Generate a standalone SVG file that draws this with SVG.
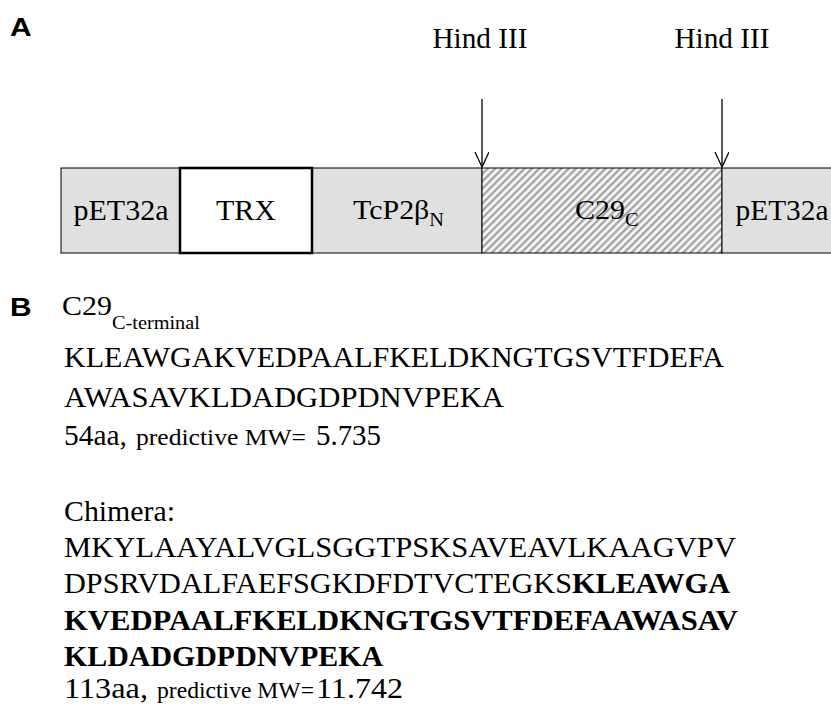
<svg xmlns="http://www.w3.org/2000/svg" width="831" height="704" viewBox="0 0 831 704">
<style>
.t{font-family:"Liberation Serif","Times New Roman",serif;font-size:30px;fill:#000}
.m{font-size:28px}
.sub{font-size:19px}
.sm{font-size:23px}
.b{font-weight:bold}
.lab{font-family:"Liberation Sans",Arial,sans-serif;font-weight:bold;font-size:26px;fill:#000}
.seg{fill:#e0e0e0;stroke:#000;stroke-width:1}
.conn{fill:none;stroke:#000;stroke-width:1.3}
</style>
<defs>
<pattern id="hatch" patternUnits="userSpaceOnUse" width="5.2" height="10" patternTransform="rotate(45)">
<rect width="5.2" height="10" fill="#f4f4f4"/>
<line x1="1.3" y1="0" x2="1.3" y2="10" stroke="#9a9a9a" stroke-width="2"/>
</pattern>
<marker id="vhead" markerWidth="18" markerHeight="16" refX="15" refY="7" orient="auto" markerUnits="userSpaceOnUse" viewBox="0 0 18 16">
<path d="M0,0 L15,7 L0,14" fill="none" stroke="#000" stroke-width="1.3"/>
</marker>
</defs>
<rect width="831" height="704" fill="#fff"/>

<text class="lab" transform="translate(10,36) scale(1.15,1)">A</text>
<text class="lab" transform="translate(10,316) scale(1.15,1)">B</text>

<g id="seg-pet32a-left">
<rect class="seg" x="61" y="168" width="119" height="85"/>
<text class="t" x="121" y="220" text-anchor="middle" textLength="95" lengthAdjust="spacingAndGlyphs">pET32a</text>
</g>
<g id="seg-tcp2b">
<rect class="seg" x="312" y="168" width="170" height="85"/>
<text class="t m" transform="translate(353,219) scale(1.07,1)">TcP2β<tspan class="sub" dy="7">N</tspan></text>
</g>
<g id="seg-c29">
<rect x="482" y="168" width="240" height="85" fill="url(#hatch)" stroke="#000" stroke-width="1"/>
<text class="t m" transform="translate(575,219) scale(1.07,1)">C29<tspan class="sub" dy="7">C</tspan></text>
</g>
<g id="seg-pet32a-right">
<rect class="seg" x="722" y="168" width="115" height="85"/>
<text class="t" x="782" y="220" text-anchor="middle" textLength="93" lengthAdjust="spacingAndGlyphs">pET32a</text>
</g>
<g id="seg-trx">
<rect x="180" y="168" width="132" height="85" fill="#fff" stroke="#000" stroke-width="2.5"/>
<text class="t" x="246" y="220" text-anchor="middle">TRX</text>
</g>

<g id="hind1">
<text class="t" x="480" y="48" text-anchor="middle" textLength="95" lengthAdjust="spacingAndGlyphs">Hind III</text>
</g>
<g id="hind2">
<text class="t" x="722" y="48" text-anchor="middle" textLength="95" lengthAdjust="spacingAndGlyphs">Hind III</text>
</g>

<g id="connectors">
<path class="conn" d="M482,99 V167" marker-end="url(#vhead)"/>
<path class="conn" d="M722,99 V167" marker-end="url(#vhead)"/>
</g>

<g id="seq-c29">
<text class="t m" transform="translate(62,315) scale(1.07,1)">C29<tspan class="sub" dy="14">C-terminal</tspan></text>
<text class="t" x="64" y="367" textLength="660" lengthAdjust="spacingAndGlyphs">KLEAWGAKVEDPAALFKELDKNGTGSVTFDEFA</text>
<text class="t" x="64" y="407" textLength="440" lengthAdjust="spacingAndGlyphs">AWASAVKLDADGDPDNVPEKA</text>
<text class="t" x="64" y="445" textLength="63" lengthAdjust="spacingAndGlyphs">54aa,</text>
<text class="t sm" x="136" y="445" textLength="170" lengthAdjust="spacingAndGlyphs">predictive MW=</text>
<text class="t" x="316" y="445" textLength="65" lengthAdjust="spacingAndGlyphs">5.735</text>
</g>

<g id="seq-chimera">
<text class="t" x="64" y="521" textLength="111" lengthAdjust="spacingAndGlyphs">Chimera:</text>
<text class="t" x="64" y="557" textLength="672" lengthAdjust="spacingAndGlyphs">MKYLAAYALVGLSGGTPSKSAVEAVLKAAGVPV</text>
<text class="t" x="64" y="593" textLength="666" lengthAdjust="spacingAndGlyphs">DPSRVDALFAEFSGKDFDTVCTEGKS<tspan class="b">KLEAWGA</tspan></text>
<text class="t b" x="64" y="630" textLength="674" lengthAdjust="spacingAndGlyphs">KVEDPAALFKELDKNGTGSVTFDEFAAWASAV</text>
<text class="t b" x="64" y="666" textLength="319" lengthAdjust="spacingAndGlyphs">KLDADGDPDNVPEKA</text>
<text class="t" x="64" y="698" textLength="84" lengthAdjust="spacingAndGlyphs">113aa,</text>
<text class="t sm" x="157" y="698" textLength="157" lengthAdjust="spacingAndGlyphs">predictive MW=</text>
<text class="t" x="316" y="698" textLength="87" lengthAdjust="spacingAndGlyphs">11.742</text>
</g>
</svg>
